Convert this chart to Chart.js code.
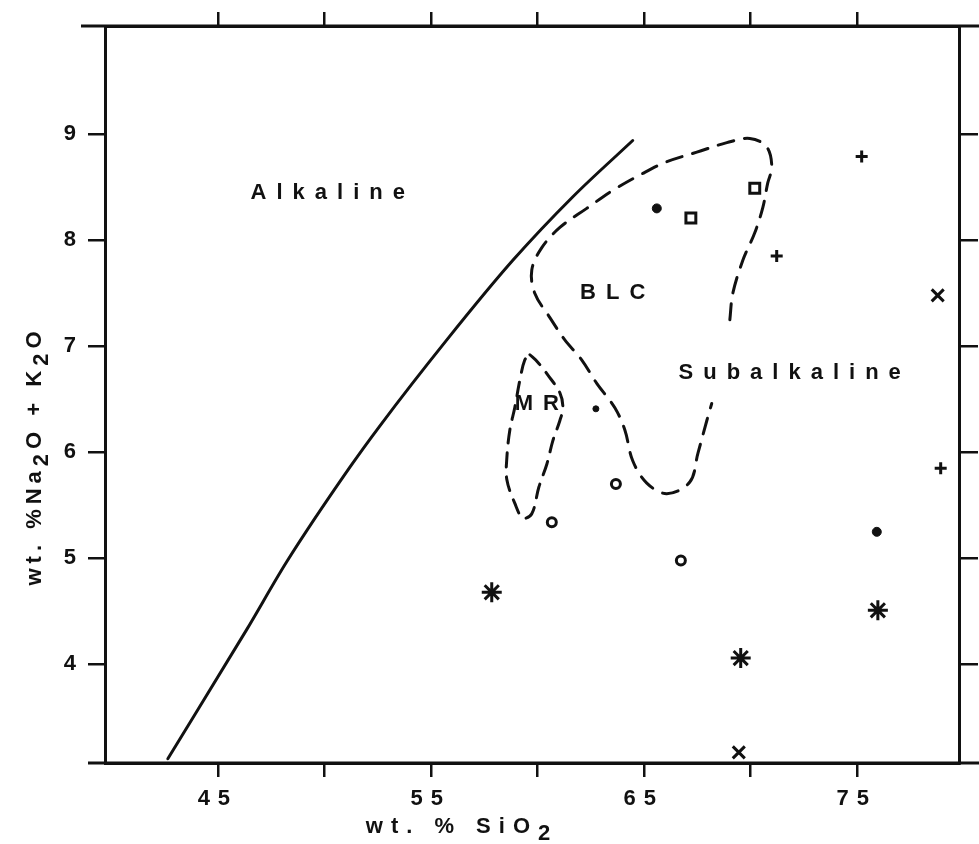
<!DOCTYPE html>
<html>
<head>
<meta charset="utf-8">
<script src="https://cdn.jsdelivr.net/npm/chart.js@4"></script>
<style>
  html, body { margin: 0; padding: 0; background: #fff; }
  canvas { display: block; }
</style>
</head>
<body>
<canvas id="tas" width="979" height="844"></canvas>
<script>
const INK = '#111'
const FONT = '"Liberation Sans", Arial, sans-serif'

// alkaline / subalkaline dividing line
const divideSiO2 = [42.65, 46.36, 48.24, 51.20, 52.61, 55.75, 58.85, 61.67, 64.48]
const divideAlk  = [3.11, 4.33, 4.97, 5.86, 6.25, 7.06, 7.81, 8.41, 8.94]

// BLC field, dashed and left open on the right side
const blcSiO2 = [69.04, 69.18, 69.65, 70.21, 70.59, 70.82, 71.01, 70.77, 69.98, 68.90, 67.49, 66.08,
  64.95, 63.54, 62.32, 61.06, 60.21, 59.74, 59.88, 60.59, 61.29, 62.09, 62.79, 63.64, 64.11,
  64.48, 65.14, 66.08, 67.16, 67.54, 67.96, 68.19]
const blcAlk = [7.25, 7.50, 7.81, 8.07, 8.31, 8.54, 8.69, 8.88, 8.96, 8.92, 8.83, 8.74,
  8.63, 8.47, 8.30, 8.12, 7.93, 7.72, 7.50, 7.27, 7.06, 6.87, 6.65, 6.42, 6.21,
  5.92, 5.71, 5.61, 5.72, 5.99, 6.30, 6.46]

// MR field, closed loop
const mrSiO2 = [59.65, 60.02, 60.49, 61.06, 61.20, 61.06, 60.73, 60.45, 60.07, 59.74, 59.32, 58.94,
  58.57, 58.57, 58.71, 58.94, 59.18, 59.41, 59.65]
const mrAlk = [6.92, 6.85, 6.73, 6.56, 6.42, 6.30, 6.11, 5.89, 5.67, 5.42, 5.38, 5.52,
  5.74, 5.95, 6.21, 6.42, 6.68, 6.87, 6.92]

// samples, one pair of arrays per symbol
const dotSiO2 = [65.61, 75.94]
const dotAlk = [8.30, 5.25]
const smallDotSiO2 = [62.75]
const smallDotAlk = [6.41]
const ringSiO2 = [63.69, 60.68, 66.74]
const ringAlk = [5.70, 5.34, 4.98]
const squareSiO2 = [67.21, 70.21]
const squareAlk = [8.21, 8.49]
const plusSiO2 = [75.23, 71.24, 78.94]
const plusAlk = [8.79, 7.85, 5.85]
const crossSiO2 = [78.80, 69.46]
const crossAlk = [7.48, 3.17]
const starSiO2 = [57.86, 69.55, 75.99]
const starAlk = [4.68, 4.06, 4.51]

// axes
const xTicks = [45, 50, 55, 60, 65, 70, 75]
const xLabelled = [45, 55, 65, 75]
const yTicks = [4, 5, 6, 7, 8, 9]

// field names
const fieldNames = ['Alkaline', 'BLC', 'Subalkaline', 'MR']
const fieldSiO2 = [50.16, 63.54, 71.85, 59.98]
const fieldAlk = [8.45, 7.50, 6.75, 6.46]

const pts = (xs, ys) => xs.map((v, i) => ({ x: v, y: ys[i] }))

function outline(xs, ys, dash) {
  return {
    data: pts(xs, ys), showLine: true, borderColor: INK, borderWidth: 3,
    borderDash: dash, borderCapStyle: 'round', pointRadius: 0, tension: 0.35, fill: false
  }
}

function marks(xs, ys, style, r, filled, bw) {
  return {
    data: pts(xs, ys), showLine: false, pointStyle: style, pointRadius: r,
    pointBorderColor: INK, pointBackgroundColor: filled ? INK : 'rgba(0,0,0,0)',
    pointBorderWidth: bw, pointHoverRadius: r
  }
}

function drawRich(ctx, parts, size, shift) {
  const big = `bold ${size}px ${FONT}`
  let total = 0
  const widths = parts.map(([t, sub]) => {
    ctx.font = big
    const w = ctx.measureText(t).width
    total += w
    return w
  })
  let cx = -total / 2
  ctx.textAlign = 'left'
  ctx.textBaseline = 'middle'
  parts.forEach(([t, sub], i) => {
    ctx.font = big
    ctx.fillText(t, cx, sub ? shift : 0)
    cx += widths[i]
  })
}

const decor = {
  id: 'decor',
  beforeDraw(chart) {
    chart.ctx.letterSpacing = '8px'
  },
  afterDraw(chart) {
    const { ctx, chartArea: a, scales: { x, y } } = chart
    ctx.save()
    ctx.strokeStyle = INK
    ctx.lineWidth = 3
    // the frame lines run past the plot as on the original
    ctx.beginPath()
    ctx.moveTo(a.left - 24, a.top); ctx.lineTo(chart.width, a.top)
    ctx.moveTo(a.left - 17, a.bottom); ctx.lineTo(chart.width, a.bottom)
    ctx.stroke()

    ctx.fillStyle = INK
    ctx.textAlign = 'center'
    ctx.textBaseline = 'middle'
    ctx.font = `bold 22px ${FONT}`
    ctx.letterSpacing = '10px'
    fieldNames.forEach((t, i) => {
      ctx.fillText(t, x.getPixelForValue(fieldSiO2[i]) + 5, y.getPixelForValue(fieldAlk[i]))
    })

    ctx.letterSpacing = '8px'
    ctx.save()
    ctx.translate(a.left + 357, a.bottom + 64)
    drawRich(ctx, [['wt. % SiO', false], ['2', true]], 22, 7)
    ctx.restore()

    ctx.letterSpacing = '5px'
    ctx.save()
    ctx.translate(a.left - 70, a.top + 430)
    ctx.rotate(-Math.PI / 2)
    drawRich(ctx, [['wt. %Na', false], ['2', true], ['O + K', false], ['2', true], ['O', false]], 22, 7)
    ctx.restore()
    ctx.restore()
  }
}

const tickFont = { family: FONT, size: 22, weight: 'bold' }
const border = { display: true, color: INK, width: 3 }
const grid = (len) => ({ drawOnChartArea: false, drawTicks: true, tickLength: len, color: INK, lineWidth: 2.5 })

const divideLine = outline(divideSiO2, divideAlk, [])
divideLine.cubicInterpolationMode = 'monotone'

new Chart(document.getElementById('tas'), {
  type: 'scatter',
  data: {
    datasets: [
      divideLine,
      outline(blcSiO2, blcAlk, [16, 11]),
      outline(mrSiO2, mrAlk, [14, 10]),
      marks(dotSiO2, dotAlk, 'circle', 4.5, true, 1),
      marks(smallDotSiO2, smallDotAlk, 'circle', 3, true, 1),
      marks(ringSiO2, ringAlk, 'circle', 4.5, false, 3),
      marks(squareSiO2, squareAlk, 'rect', 7, false, 3),
      marks(plusSiO2, plusAlk, 'cross', 6, false, 3),
      marks(crossSiO2, crossAlk, 'crossRot', 8.5, false, 3),
      marks(starSiO2, starAlk, 'star', 10, false, 3)
    ]
  },
  options: {
    responsive: false,
    animation: false,
    layout: { padding: 0 },
    plugins: { legend: { display: false }, tooltip: { enabled: false } },
    scales: {
      x: {
        type: 'linear', position: 'bottom', min: 39.7, max: 79.8,
        afterBuildTicks: (s) => { s.ticks = xTicks.map(v => ({ value: v })) },
        afterFit: (s) => { s.height = 81 },
        ticks: {
          font: tickFont, color: INK, padding: 9, maxRotation: 0,
          callback: (v) => xLabelled.includes(v) ? String(v) : ''
        },
        grid: grid(14), border: border
      },
      x2: {
        type: 'linear', position: 'top', min: 39.7, max: 79.8,
        afterBuildTicks: (s) => { s.ticks = xTicks.map(v => ({ value: v })) },
        afterFit: (s) => { s.height = 26 },
        ticks: { display: false },
        grid: grid(14), border: border
      },
      y: {
        type: 'linear', position: 'left', min: 3.07, max: 10.02,
        afterBuildTicks: (s) => { s.ticks = yTicks.map(v => ({ value: v })) },
        afterFit: (s) => { s.width = 105 },
        ticks: { font: tickFont, color: INK, padding: 4, callback: (v) => String(v) },
        grid: grid(17), border: border
      },
      y2: {
        type: 'linear', position: 'right', min: 3.07, max: 10.02,
        afterBuildTicks: (s) => { s.ticks = yTicks.map(v => ({ value: v })) },
        afterFit: (s) => { s.width = 20 },
        ticks: { display: false },
        grid: grid(19), border: border
      }
    }
  },
  plugins: [decor]
})
</script>
</body>
</html>
